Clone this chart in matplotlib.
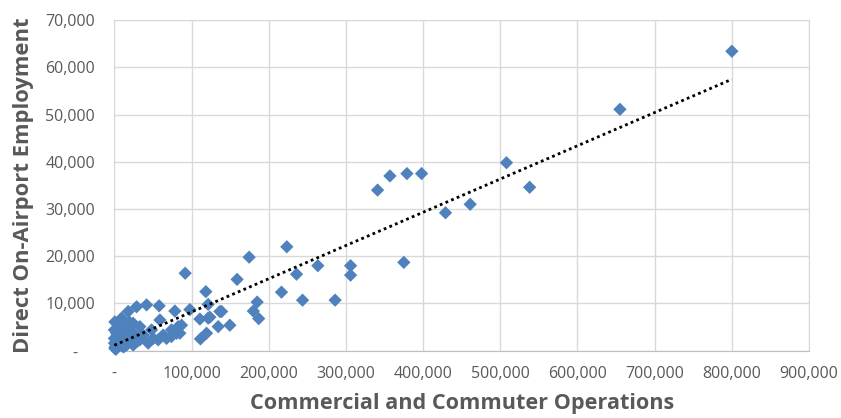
import numpy as np
import matplotlib.pyplot as plt
from matplotlib.ticker import FuncFormatter, MultipleLocator

# commercial + commuter operations vs direct on-airport employment
ops = [
    800000, 655000, 508000, 538000, 398000, 379000, 357000, 341000,
    461000, 429000, 375000, 306000, 306000, 263600, 236000, 223400,
    174600, 159000, 91700, 118500, 216500, 243800, 286000, 185000,
    180000, 187000, 149600, 134500, 121500, 136700, 97800, 78400,
    58000, 41700, 28800, 17900, 9300, 600, 110800, 123700, 119400,
    87000, 84800, 111500, 138900, 121500, 82600, 74000, 48200, 33000,
    50300, 43800, 24400, 11400, 4900, 2800, 0, 600, 15800, 28800,
    67600, 63200, 74000, 80600, 9300, 20000, 33000, 56700, 37300,
    24400, 7100, 0, 0, 24400, 7100, 59000, 3000, 12000, 18000, 5000,
    2000, 5000, 8000, 3000, 12000, 15000, 20000, 6000, 10000, 18000,
    25000, 22000, 1000, 14000,
]
employment = [
    63400, 51100, 39800, 34600, 37500, 37500, 37000, 34000,
    31000, 29200, 18700, 18000, 16000, 18000, 16200, 22000,
    19800, 15100, 16400, 12500, 12400, 10700, 10700, 10300,
    8400, 6800, 5400, 5100, 9800, 8300, 8700, 8400,
    9500, 9700, 9300, 8300, 6900, 6100, 6700, 7100, 3700,
    5400, 3700, 2500, 8300, 6900, 5100, 4400, 4400, 5100,
    2600, 1600, 3700, 4400, 5400, 3700, 1600, 500, 1200, 1900,
    2600, 3300, 3000, 3700, 2300, 3000, 2300, 2300, 3300,
    1200, 3000, 2600, 4400, 5800, 1600, 6500, 900, 800, 2000, 2500,
    300, 1500, 2500, 3000, 3500, 5000, 6000, 4500, 1000, 1800,
    2500, 4000, 800, 3000,
]

x = np.array(ops)
y = np.array(employment)
b, a = np.polyfit(x, y, 1)

fig = plt.figure(figsize=(8.41, 4.18), dpi=100)
ax = fig.add_axes([0.136, 0.161, 0.826, 0.791])

ax.scatter(x, y, marker='D', s=46, color='#4F81BD', edgecolors='none', zorder=3,
           clip_on=False)
xt = np.array([x.min(), x.max()])
ax.plot(xt, a + b * xt, color='black', linestyle=(0, (1, 1.2)), linewidth=2, zorder=4)

ax.set_xlim(0, 900000)
ax.set_ylim(0, 70000)
ax.xaxis.set_major_locator(MultipleLocator(100000))
ax.yaxis.set_major_locator(MultipleLocator(10000))

def fmt(v, pos):
    if v == 0:
        return '-'
    return '{:,.0f}'.format(v)

def fmt_y(v, pos):
    if v == 0:
        return '-    '
    return '{:,.0f}'.format(v)

ax.xaxis.set_major_formatter(FuncFormatter(fmt))
ax.yaxis.set_major_formatter(FuncFormatter(fmt_y))

ax.grid(True, color='#D9D9D9', linewidth=1)
ax.set_axisbelow(True)
for s in ax.spines.values():
    s.set_color('#D9D9D9')
ax.spines['bottom'].set_color('#BFBFBF')
ax.tick_params(length=0, labelsize=11.5, labelcolor='#595959', pad=11)
ax.tick_params(axis='y', pad=14)
for lab in ax.get_xticklabels() + ax.get_yticklabels():
    lab.set_family('Open Sans')

ax.set_xlabel('Commercial and Commuter Operations', fontsize=15.6, fontweight='bold',
              color='#595959', family='Open Sans', labelpad=8)
ax.set_ylabel('Direct On-Airport Employment', fontsize=15.8, fontweight='bold',
              color='#595959', family='Open Sans', labelpad=8)

fig.savefig('out.png', dpi=100)
